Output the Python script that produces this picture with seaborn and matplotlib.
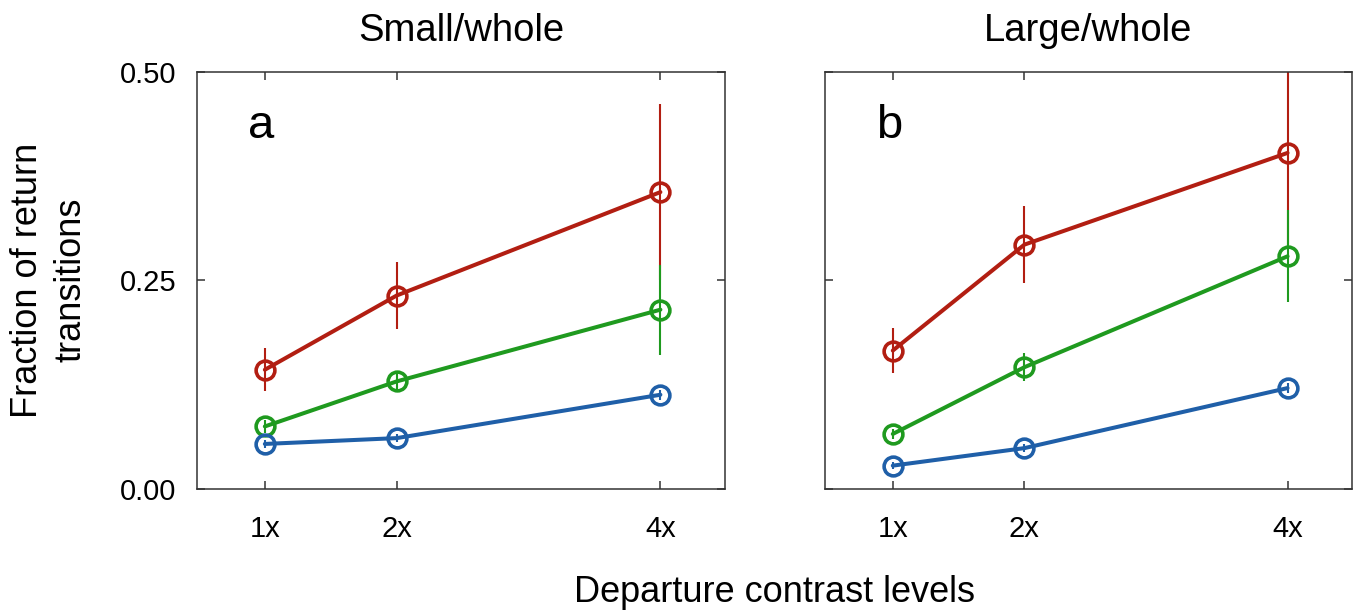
import numpy as np
import pandas as pd
import matplotlib
matplotlib.use("Agg")
import matplotlib.pyplot as plt
import seaborn as sns

# ---- data ----
contrast = [1, 2, 4]
tick_labels = ["1x", "2x", "4x"]
groups = ["red", "green", "blue"]
panels = ["Small/whole", "Large/whole"]
panel_letters = ["a", "b"]

small_red = [0.143, 0.232, 0.356]
small_red_err = [0.026, 0.040, 0.106]
small_green = [0.075, 0.129, 0.215]
small_green_err = [0.008, 0.013, 0.054]
small_blue = [0.054, 0.061, 0.113]
small_blue_err = [0.005, 0.005, 0.006]

large_red = [0.166, 0.293, 0.403]
large_red_err = [0.027, 0.046, 0.110]
large_green = [0.066, 0.146, 0.279]
large_green_err = [0.006, 0.017, 0.055]
large_blue = [0.028, 0.049, 0.121]
large_blue_err = [0.004, 0.005, 0.006]

colors = {"red": "#b21e12", "green": "#1f9a1f", "blue": "#1f5fa8"}

rows = []
for panel, series in [
    ("Small/whole", {"red": (small_red, small_red_err), "green": (small_green, small_green_err), "blue": (small_blue, small_blue_err)}),
    ("Large/whole", {"red": (large_red, large_red_err), "green": (large_green, large_green_err), "blue": (large_blue, large_blue_err)}),
]:
    for g in groups:
        vals, errs = series[g]
        for c, v, e in zip(contrast, vals, errs):
            rows.append({"panel": panel, "group": g, "contrast": c, "value": v, "err": e})
df = pd.DataFrame(rows)

sns.set_theme(style="ticks")
plt.rcParams["font.family"] = ["Liberation Sans", "DejaVu Sans"]
plt.rcParams["text.color"] = "black"
plt.rcParams["axes.labelcolor"] = "black"
plt.rcParams["xtick.labelcolor"] = "black"
plt.rcParams["ytick.labelcolor"] = "black"

fig = plt.figure(figsize=(13.61, 6.16), dpi=100)
ax_pos = [[0.1447, 0.2062, 0.3880, 0.6769], [0.6062, 0.2062, 0.3872, 0.6769]]

for i, panel in enumerate(panels):
    ax = fig.add_axes(ax_pos[i])
    sub = df[df.panel == panel]
    for g in groups:
        s = sub[sub.group == g]
        ax.errorbar(s.contrast, s.value, yerr=s.err, fmt="none", ecolor=colors[g],
                    elinewidth=1.5, capsize=0, zorder=2)
    sns.lineplot(data=sub, x="contrast", y="value", hue="group", hue_order=groups,
                 palette=colors, marker="o", markersize=13.5, markerfacecolor="none",
                 markeredgewidth=2.6, linewidth=2.9, legend=False, ax=ax, zorder=3)
    for line in ax.lines:
        line.set_markeredgecolor(line.get_color())
    ax.set_xlim(0.485, 4.49)
    ax.set_ylim(0, 0.5)
    ax.set_xticks(contrast)
    ax.set_xticklabels(tick_labels)
    ax.set_yticks([0, 0.25, 0.5])
    if i == 0:
        ax.set_yticklabels(["0.00", "0.25", "0.50"])
    else:
        ax.set_yticklabels([])
    ax.tick_params(direction="in", length=6, width=1.1, color="#333333",
                   top=True, right=True, labelsize=21)
    ax.tick_params(axis="x", pad=19)
    ax.tick_params(axis="y", pad=15)
    for sp in ax.spines.values():
        sp.set_visible(True)
        sp.set_color("#333333")
        sp.set_linewidth(1.1)
    ax.set_xlabel("")
    ax.set_ylabel("")
    ax.set_title(panel, fontsize=27.5, pad=22)
    ax.text(0.097, 0.842, panel_letters[i], transform=ax.transAxes, fontsize=34,
            va="baseline", ha="left")

fig.text(0.569, 0.022, "Departure contrast levels", ha="center", va="baseline", fontsize=26)
fig.text(0.036, 0.545, "Fraction of return\ntransitions", ha="center", va="center",
         rotation=90, fontsize=26, linespacing=1.3)

fig.savefig("out.png", dpi=100)
